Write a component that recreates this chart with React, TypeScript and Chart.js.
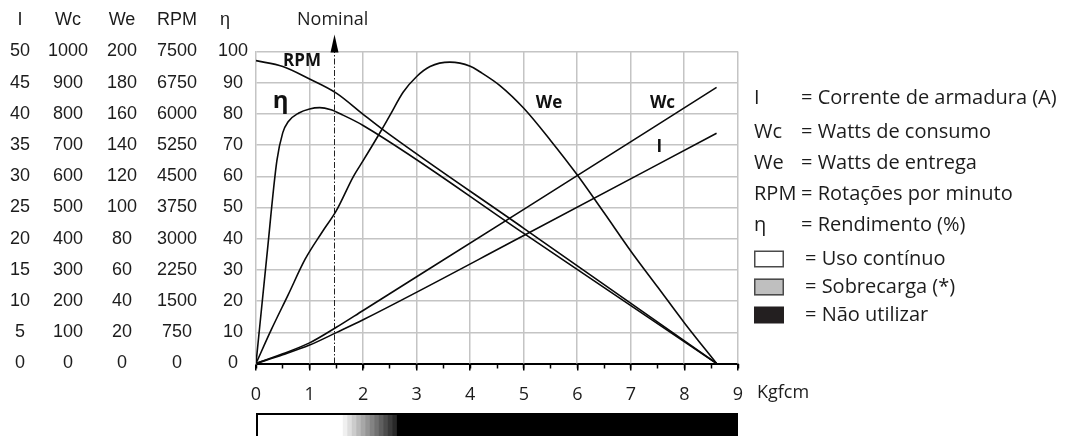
import React, { useEffect, useRef } from 'react';
import { Chart, registerables } from 'chart.js';

Chart.register(...registerables);

// ---------------- data ----------------
const AXIS_HEADERS = ['I', 'Wc', 'We', 'RPM', 'η'];
const I_TICKS = [0, 5, 10, 15, 20, 25, 30, 35, 40, 45, 50];
const WC_TICKS = [0, 100, 200, 300, 400, 500, 600, 700, 800, 900, 1000];
const WE_TICKS = [0, 20, 40, 60, 80, 100, 120, 140, 160, 180, 200];
const RPM_TICKS = [0, 750, 1500, 2250, 3000, 3750, 4500, 5250, 6000, 6750, 7500];
const ETA_TICKS = [0, 10, 20, 30, 40, 50, 60, 70, 80, 90, 100];
const TORQUE_TICKS = [0, 1, 2, 3, 4, 5, 6, 7, 8, 9];
const TORQUE_MINOR_TICKS = [0, 0.5, 1, 1.5, 2, 2.5, 3, 3.5, 4, 4.5, 5, 5.5, 6, 6.5, 7, 7.5, 8, 8.5, 9];
const TORQUE_UNIT = 'Kgfcm';

const I_TORQUE = [0, 0.5, 1, 1.5, 2, 5, 8.6];
const I_AMPS = [0, 1.4, 2.95, 4.95, 7.0, 20.5, 36.9];

const WC_TORQUE = [0, 0.5, 1, 1.5, 2, 5, 8.6];
const WC_WATTS = [0, 31, 66, 116, 170, 494, 885];

const WE_TORQUE = [0, 0.29, 0.6, 0.92, 1.23, 1.5, 1.82, 2.0, 2.35, 2.5, 2.75, 3.0, 3.25, 3.62, 4.0, 4.18, 4.56, 5.0, 5.5, 6.0, 6.5, 7.0, 7.5, 8.0, 8.6];
const WE_WATTS = [0, 22, 44, 67, 84, 98, 120, 130, 150, 159, 174, 184, 190.4, 193.2, 190.6, 187, 178, 163.6, 143, 120.8, 96.6, 72, 49, 26, 0];

const RPM_TORQUE = [0, 0.5, 1, 1.5, 2, 2.35, 5, 8.6];
const RPM_VALUES = [7280, 7140, 6840, 6500, 5990, 5640, 3250, 0];

const ETA_TORQUE = [0, 0.2, 0.39, 0.5, 0.6, 0.8, 1.0, 1.19, 1.4, 1.6, 2.0, 5.0, 8.6];
const ETA_VALUES = [0, 34, 65, 74, 77.5, 80.3, 81.6, 82, 81.3, 79.8, 76.3, 41.7, 0];

const NOMINAL_TORQUE = 1.45;
const NOMINAL_LABEL = 'Nominal';

// curve labels: text, torque, η-scale level
const CURVE_LABEL_TEXTS = ['RPM', 'η', 'We', 'Wc', 'I'];
const CURVE_LABEL_TORQUE = [0.86, 0.46, 5.47, 7.59, 7.53];
const CURVE_LABEL_LEVEL = [97, 84, 83.6, 83.3, 69.5];

// bar below axis: white until, gradient until (torque)
const ZONE_WHITE_END = 1.62;
const ZONE_BLACK_START = 2.63;
const ZONE_STEPS = 12;

const LEGEND_KEYS = ['I', 'Wc', 'We', 'RPM', 'η'];
const LEGEND_TEXTS = ['= Corrente de armadura (A)', '= Watts de consumo', '= Watts de entrega', '= Rotações por minuto', '= Rendimento (%)'];
const ZONE_TEXTS = ['= Uso contínuo', '= Sobrecarga (*)', '= Não utilizar'];
const ZONE_FILLS = ['#ffffff', '#bfbfbf', '#231f20'];

// ---------------- styling ----------------
const TEXT = '#1c1c1c';
const GRID = '#c4c4c4';
const SANS = '"Liberation Sans", Arial, sans-serif';
const OPEN = '"Open Sans", "DejaVu Sans", sans-serif';

const series = (xs: number[], ys: number[]) => xs.map((x, i) => ({ x, y: ys[i] }));

const leftAxis = (ticks: number[], weight: number, width: number, padding: number) => ({
  type: 'linear',
  position: 'left',
  min: ticks[0],
  max: ticks[ticks.length - 1],
  weight,
  afterBuildTicks: (s: any) => {
    s.ticks = ticks.map((v) => ({ value: v }));
  },
  afterFit: (s: any) => {
    s.width = width;
  },
  ticks: {
    crossAlign: 'center',
    padding,
    color: TEXT,
    font: { family: SANS, size: 18 },
    callback: (v: any) => String(v),
  },
  grid: { display: false, drawTicks: false, tickLength: 0, drawOnChartArea: false },
  border: { display: false },
});

const drawVerticalGrid = (chart: any) => {
  const { ctx, chartArea: a, scales } = chart;
  const xs = scales.x;
  ctx.save();
  ctx.fillStyle = GRID;
  TORQUE_TICKS.forEach((t) => {
    if (t === 0) return;
    const gx = Math.round(xs.getPixelForValue(t));
    ctx.fillRect(gx - 1, a.top, 1.5, a.bottom - a.top);
  });
  ctx.restore();
};

const decorPlugin = {
  id: 'decor',
  beforeDatasetsDraw(chart: any) {
    const { ctx, chartArea: a, scales } = chart;
    const xs = scales.x;
    drawVerticalGrid(chart);
    ctx.save();
    // nominal marker
    const px = Math.round(xs.getPixelForValue(NOMINAL_TORQUE)) + 0.5;
    ctx.strokeStyle = '#222';
    ctx.lineWidth = 1;
    ctx.setLineDash([6, 2, 1.5, 2]);
    ctx.beginPath();
    ctx.moveTo(px, a.bottom);
    ctx.lineTo(px, a.top - 4);
    ctx.stroke();
    ctx.setLineDash([]);
    ctx.fillStyle = '#000';
    ctx.beginPath();
    ctx.moveTo(px, a.top - 17);
    ctx.lineTo(px - 4, a.top + 1);
    ctx.lineTo(px + 4, a.top + 1);
    ctx.closePath();
    ctx.fill();
    ctx.restore();
  },
  afterDraw(chart: any) {
    const { ctx, chartArea: a, scales } = chart;
    const xs = scales.x;
    const ys = scales.yEta;
    ctx.save();
    ctx.fillStyle = TEXT;
    ctx.textBaseline = 'middle';

    // column headers above the left axes
    ctx.font = `18px ${SANS}`;
    ctx.textAlign = 'center';
    ['yI', 'yWc', 'yWe', 'yRpm', 'yEta'].forEach((id, i) => {
      const s = scales[id];
      const widest = ctx.measureText(String(s.max)).width;
      let cx = s.right - s.options.ticks.padding - widest / 2;
      if (id === 'yEta') cx -= 8;
      ctx.fillText(AXIS_HEADERS[i], cx, 20);
    });

    // Nominal label
    ctx.font = `18px ${OPEN}`;
    ctx.fillText(NOMINAL_LABEL, xs.getPixelForValue(NOMINAL_TORQUE) - 1, 20);

    // curve labels
    CURVE_LABEL_TEXTS.forEach((t, i) => {
      ctx.font = t === 'η' ? `bold 24px ${OPEN}` : `bold 17px ${OPEN}`;
      ctx.fillStyle = '#111';
      ctx.fillText(t, xs.getPixelForValue(CURVE_LABEL_TORQUE[i]), ys.getPixelForValue(CURVE_LABEL_LEVEL[i]));
    });

    // unit label
    ctx.fillStyle = TEXT;
    ctx.font = `18px ${OPEN}`;
    ctx.textAlign = 'left';
    ctx.fillText(TORQUE_UNIT, a.right + 19, 393);

    // operating-zone bar
    const barTop = 413;
    const barBottom = 440;
    const x0 = a.left;
    const xw = xs.getPixelForValue(ZONE_WHITE_END);
    const xb = xs.getPixelForValue(ZONE_BLACK_START);
    const x9 = a.right;
    ctx.fillStyle = '#ffffff';
    ctx.fillRect(x0, barTop, xw - x0, barBottom - barTop);
    const stepW = (xb - xw) / ZONE_STEPS;
    for (let i = 0; i < ZONE_STEPS; i++) {
      const g = Math.round(240 - (i * (240 - 40)) / (ZONE_STEPS - 1));
      ctx.fillStyle = `rgb(${g},${g},${g})`;
      ctx.fillRect(xw + i * stepW, barTop, stepW + 0.6, barBottom - barTop);
    }
    ctx.fillStyle = '#000';
    ctx.fillRect(xb, barTop, x9 - xb, barBottom - barTop);
    ctx.strokeStyle = '#000';
    ctx.lineWidth = 2;
    ctx.beginPath();
    ctx.moveTo(x0 + 1, barBottom);
    ctx.lineTo(x0 + 1, barTop + 1);
    ctx.lineTo(x9, barTop + 1);
    ctx.stroke();

    // legend
    const lx = a.right + 16;
    const ex = a.right + 63;
    const rowY = [98, 132, 163, 194, 225];
    ctx.font = `20px ${OPEN}`;
    ctx.fillStyle = TEXT;
    LEGEND_KEYS.forEach((k, i) => {
      ctx.fillText(k, lx, rowY[i]);
      ctx.fillText(LEGEND_TEXTS[i], ex, rowY[i]);
    });
    const zoneY = [259, 287, 315];
    ZONE_TEXTS.forEach((t, i) => {
      const by = zoneY[i] - 8.5;
      ctx.fillStyle = ZONE_FILLS[i];
      ctx.fillRect(lx, by, 30, 17);
      if (i < 2) {
        ctx.strokeStyle = '#4a4a4a';
        ctx.lineWidth = 1.5;
        ctx.strokeRect(lx + 0.75, by + 0.75, 28.5, 15.5);
      }
      ctx.fillStyle = TEXT;
      ctx.fillText(t, ex + 4, zoneY[i]);
    });
    ctx.restore();
  },
};

export default function App() {
  const canvasRef = useRef<HTMLCanvasElement | null>(null);

  useEffect(() => {
    document.body.style.margin = '0';
    const canvas = canvasRef.current;
    if (!canvas) return;
    const lineStyle = {
      borderColor: '#0a0a0a',
      borderWidth: 1.6,
      pointRadius: 0,
      fill: false,
      cubicInterpolationMode: 'monotone' as const,
    };
    const chart = new Chart(canvas, {
      type: 'line',
      data: {
        datasets: [
          { label: 'I', data: series(I_TORQUE, I_AMPS), yAxisID: 'yI', ...lineStyle },
          { label: 'Wc', data: series(WC_TORQUE, WC_WATTS), yAxisID: 'yWc', ...lineStyle },
          { label: 'We', data: series(WE_TORQUE, WE_WATTS), yAxisID: 'yWe', ...lineStyle },
          { label: 'RPM', data: series(RPM_TORQUE, RPM_VALUES), yAxisID: 'yRpm', ...lineStyle },
          { label: 'η', data: series(ETA_TORQUE, ETA_VALUES), yAxisID: 'yEta', ...lineStyle },
        ],
      },
      options: {
        animation: false,
        responsive: false,
        maintainAspectRatio: false,
        devicePixelRatio: 1,
        layout: { padding: { left: 0, right: 332, top: 51.5, bottom: 0 } },
        plugins: { legend: { display: false }, tooltip: { enabled: false } },
        scales: {
          x: {
            type: 'linear',
            position: 'bottom',
            weight: 1,
            min: 0,
            max: 9,
            afterBuildTicks: (s: any) => {
              s.ticks = TORQUE_TICKS.map((v) => ({ value: v }));
            },
            afterFit: (s: any) => {
              s.height = 72.5;
            },
            ticks: {
              padding: 14,
              color: TEXT,
              font: { family: OPEN, size: 18 },
              maxRotation: 0,
              autoSkip: false,
              callback: (v: any) => String(v),
            },
            grid: { drawOnChartArea: false, color: GRID, lineWidth: 1.5, tickLength: 7, tickColor: '#000', tickWidth: 1.5 },
            border: { color: '#000', width: 2 },
          },
          xMinor: {
            type: 'linear',
            position: 'bottom',
            weight: 0,
            min: 0,
            max: 9,
            afterBuildTicks: (s: any) => {
              s.ticks = TORQUE_MINOR_TICKS.map((v) => ({ value: v }));
            },
            afterFit: (s: any) => {
              s.height = 0;
            },
            ticks: { callback: () => '', autoSkip: false, maxRotation: 0, font: { size: 1 } },
            grid: { drawOnChartArea: false, tickLength: 5, tickColor: '#000', tickWidth: 1.5 },
            border: { display: false },
          },
          yI: leftAxis(I_TICKS, 5, 30, 0),
          yWc: leftAxis(WC_TICKS, 4, 58, 0),
          yWe: leftAxis(WE_TICKS, 3, 49, 0),
          yRpm: leftAxis(RPM_TICKS, 2, 60, 0),
          yEta: {
            ...leftAxis(ETA_TICKS, 1, 59, 8),
            grid: {
              display: true,
              drawTicks: false,
              tickLength: 0,
              drawOnChartArea: true,
              lineWidth: 1.5,
              color: (c: any) => (c.tick && c.tick.value === 0 ? 'rgba(0,0,0,0)' : GRID),
            },
            border: { display: true, color: GRID, width: 1.5 },
          },
        } as any,
      },
      plugins: [decorPlugin],
    } as any);
    return () => chart.destroy();
  }, []);

  return (
    <div style={{ position: 'absolute', left: 0, top: 0, width: 1070, height: 436, background: '#fff' }}>
      <canvas ref={canvasRef} width={1070} height={436} style={{ width: 1070, height: 436, display: 'block' }} />
    </div>
  );
}
